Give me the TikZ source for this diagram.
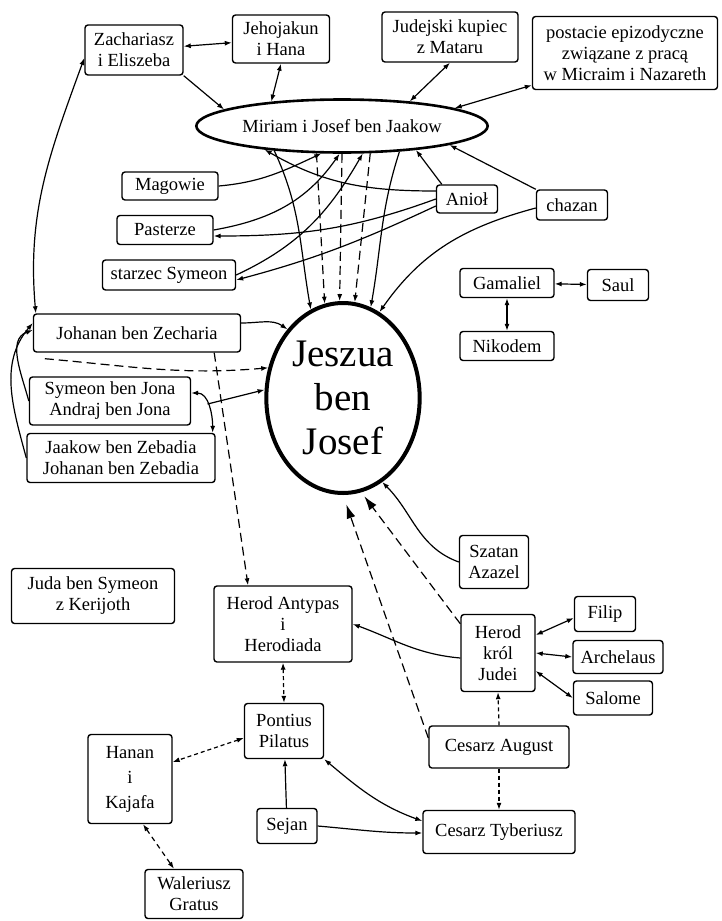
\documentclass[tikz,border=0pt]{standalone}
\usepackage{fontspec}
\setmainfont{Liberation Serif}
\usetikzlibrary{shapes.geometric}
\usetikzlibrary{arrows.meta}

\begin{document}
\begin{tikzpicture}[x=1pt,y=-1pt,
  box/.style={draw,line width=1.4pt,rounded corners=3pt,align=center,inner sep=2pt,font=\fontsize{18.5}{21}\selectfont},
  oneway/.style={line width=1.2pt,-{Latex[length=7pt,width=5pt]}},
  twoway/.style={line width=1.2pt,{Latex[length=7pt,width=5pt]}-{Latex[length=7pt,width=5pt]}},
  bighead/.style={line width=1.2pt,-{Latex[length=14pt,width=9pt]}},
  longdash/.style={dash pattern=on 9pt off 5pt},
  shortdash/.style={dash pattern=on 4pt off 3pt}]

\useasboundingbox (0,0) rectangle (722,921);

\node[box,minimum width=98pt,minimum height=50pt] (zach) at (134,50) {Zachariasz\\i Eliszeba};
\node[box,minimum width=97pt,minimum height=48pt] (jeho) at (281,39) {Jehojakun\\i Hana};
\node[box,minimum width=136pt,minimum height=50pt] (kupiec) at (450,37) {Judejski kupiec\\z Mataru};
\node[box,minimum width=185pt,minimum height=73pt] (epizod) at (625,53) {postacie epizodyczne\\związane z pracą\\w Micraim i Nazareth};
\node[draw,ellipse,line width=2.6pt,minimum width=290pt,minimum height=53pt,font=\fontsize{18.5}{21}\selectfont] (miriam) at (342,126) {Miriam i Josef ben Jaakow};

\node[box,minimum width=96pt,minimum height=28pt] (mag) at (170,186) {Magowie};
\node[box,minimum width=96pt,minimum height=29pt] (past) at (165,230) {Pasterze};
\node[box,minimum width=133pt,minimum height=30pt] (starzec) at (169,275) {starzec Symeon};
\node[box,minimum width=61pt,minimum height=28pt] (aniol) at (467,199) {Anioł};
\node[box,minimum width=71pt,minimum height=30pt] (chazan) at (572,205) {chazan};
\node[box,minimum width=94pt,minimum height=29pt] (gam) at (507,283) {Gamaliel};
\node[box,minimum width=61pt,minimum height=31pt] (saul) at (618,285) {Saul};
\node[box,minimum width=94pt,minimum height=29pt] (nik) at (507,346) {Nikodem};

\node[box,minimum width=207pt,minimum height=38pt] (johanan) at (137,333) {Johanan ben Zecharia};
\node[box,minimum width=161pt,minimum height=48pt] (symeon) at (110,401) {Symeon ben Jona\\Andraj ben Jona};
\node[box,minimum width=188pt,minimum height=49pt] (jaakow) at (121,458) {Jaakow ben Zebadia\\Johanan ben Zebadia};
\node[draw,ellipse,line width=4pt,minimum width=150pt,minimum height=190pt,align=center,font=\fontsize{39}{44}\selectfont] (jeszua) at (343,398) {Jeszua\\ben\\Josef};

\node[box,minimum width=69pt,minimum height=53pt] (szatan) at (494,562) {Szatan\\Azazel};
\node[box,minimum width=163pt,minimum height=55pt] (juda) at (93,596) {Juda ben Symeon\\z Kerijoth};
\node[box,minimum width=138pt,minimum height=76pt] (antypas) at (283,624) {Herod Antypas\\i\\Herodiada};
\node[box,minimum width=74pt,minimum height=77pt] (herod) at (498,653) {Herod\\król\\Judei};
\node[box,minimum width=61pt,minimum height=35pt] (filip) at (605,614) {Filip};
\node[box,minimum width=90pt,minimum height=33pt] (arch) at (618,657) {Archelaus};
\node[box,minimum width=79pt,minimum height=34pt] (salome) at (613,698) {Salome};
\node[box,minimum width=79pt,minimum height=55pt] (pilat) at (284,731) {Pontius\\Pilatus};
\node[box,minimum width=84pt,minimum height=89pt] (hanan) at (130,779) {Hanan\\[4pt]i\\[4pt]Kajafa};
\node[box,minimum width=140pt,minimum height=42pt] (august) at (499,747) {Cesarz August};
\node[box,minimum width=60pt,minimum height=35pt] (sejan) at (287,826) {Sejan};
\node[box,minimum width=152pt,minimum height=43pt] (tyber) at (499,832) {Cesarz Tyberiusz};
\node[box,minimum width=98pt,minimum height=49pt] (waler) at (194,894) {Waleriusz\\Gratus};

\draw[twoway] (zach) -- (jeho);
\draw[oneway] (zach.south east) -- (miriam.172);
\draw[twoway] (jeho.south) -- (miriam.161);
\draw[twoway] (kupiec.south) -- (miriam.20);
\draw[twoway] ([yshift=5pt]epizod.south west) -- (miriam.9);

\draw[twoway] ([xshift=3pt]johanan.north west) to[out=95,in=250] ([yshift=-8pt]zach.west);
\draw[oneway] (symeon.west) to[out=105,in=200] ([yshift=3pt]johanan.west);
\draw[oneway] (jaakow.west) to[out=105,in=230] ([yshift=10pt]johanan.west);
\draw[twoway] ([yshift=8pt]symeon.east) to[out=0,in=90] coordinate[pos=0.45] (fork) ([xshift=-3pt]jaakow.north east);
\draw[oneway] (fork) -- (jeszua.174);
\draw[oneway] ([yshift=10pt]johanan.east) to[out=0,in=145] (jeszua.129);
\draw[oneway,longdash] ([xshift=12pt,yshift=-6pt]johanan.south west) to[out=-5,in=185] (jeszua.158);
\draw[oneway,longdash] ([xshift=-27pt]johanan.south east) -- ([xshift=-35pt]antypas.north);

\draw[oneway] (mag.east) to[out=5,in=205] (miriam.233);
\draw[oneway] (past.east) to[out=10,in=235] (miriam.265);
\draw[oneway] (starzec.east) to[out=25,in=240] (miriam.307);
\draw[oneway] ([xshift=6pt]aniol.north west) -- (miriam.342);
\draw[oneway] ([yshift=8pt]aniol.west) to[out=180,in=-30] (miriam.197);
\draw[oneway] (aniol.west) to[out=200,in=0] ([yshift=-6pt]past.east);
\draw[oneway] ([yshift=-7pt]aniol.west) to[out=205,in=15] ([yshift=-5pt]starzec.east);
\draw[oneway] (chazan.north west) -- (miriam.350);
\draw[oneway] ([yshift=-3pt]chazan.west) to[out=195,in=55] (jeszua.67);

\draw[oneway] (miriam.200) to[out=-65,in=100] (jeszua.110);
\draw[oneway] (miriam.336) to[out=-108,in=80] (jeszua.73);
\draw[oneway,longdash] (miriam.227) -- (jeszua.101);
\draw[oneway,longdash] (miriam.270) -- (jeszua.92);
\draw[oneway,longdash] (miriam.316) -- (jeszua.83);

\draw[twoway] (gam) -- (saul);
\draw[twoway] (gam) -- (nik);

\draw[oneway] (szatan.west) to[out=160,in=-45] (jeszua.295);
\draw[bighead,longdash,shorten >=5pt] ([yshift=-10pt]herod.north west) -- (jeszua.281);
\draw[bighead,longdash,shorten >=10pt] ([yshift=9pt]august.west) -- (jeszua.270);
\draw[oneway] ([yshift=-5pt]herod.west) to[out=175,in=-20] (antypas.east);
\draw[twoway] ([yshift=18pt]herod.east) -- ([yshift=-4pt]filip.west);
\draw[twoway] (herod.east) -- (arch.west);
\draw[twoway] ([yshift=-18pt]herod.east) -- (salome.west);
\draw[oneway,shortdash] (august.north) -- (herod.south);
\draw[oneway,shortdash] (august.south) -- (tyber.north);

\draw[twoway,shortdash] (antypas.south) -- (pilat.north);
\draw[twoway,shortdash] ([yshift=-7pt]pilat.west) -- ([yshift=17pt]hanan.east);
\draw[twoway,dash pattern=on 5pt off 4pt] ([xshift=13pt]hanan.south) -- ([xshift=-20pt]waler.north);
\draw[oneway] (sejan) -- (pilat);
\draw[oneway] (sejan.east) to[out=-5,in=180] ([yshift=-1pt]tyber.west);
\draw[twoway] (pilat.south east) to[out=-40,in=160] ([yshift=11pt]tyber.west);

\end{tikzpicture}
\end{document}
